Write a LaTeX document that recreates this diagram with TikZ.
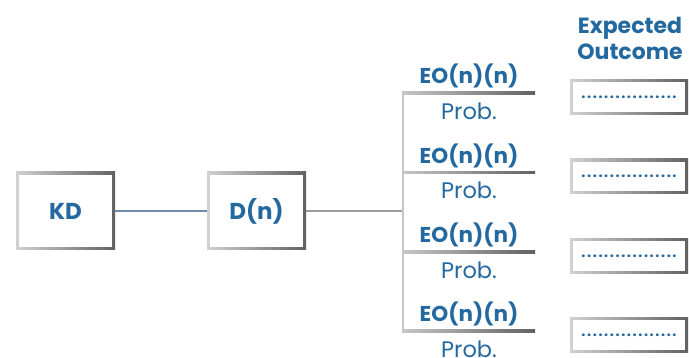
\documentclass[tikz,border=0pt]{standalone}
\usepackage{fontspec}
\setmainfont{Poppins}
\definecolor{eoblue}{RGB}{36,104,160}
\definecolor{linkblue}{RGB}{110,140,170}
\newcommand{\dotrow}{\foreach \i in {1,...,16}{.\kern1.6pt}.}
\begin{document}
\begin{tikzpicture}[x=1pt,y=-1pt,
  framebox/.style={left color=black!18, right color=black!62,
    inner sep=0pt, text=eoblue,
    path picture={\fill[white]
      ([xshift=2.6pt,yshift=2.6pt]path picture bounding box.south west) rectangle
      ([xshift=-2.6pt,yshift=-2.6pt]path picture bounding box.north east);}},
  bigbox/.style={framebox, minimum width=99pt, minimum height=78pt,
    font=\bfseries\fontsize{23}{25}\selectfont},
  outbox/.style={framebox, minimum width=118pt, minimum height=35pt,
    font=\bfseries\fontsize{14.5}{16}\selectfont},
  eolabel/.style={text=eoblue, font=\bfseries\fontsize{21.5}{24}\selectfont, inner sep=0pt},
  problabel/.style={text=eoblue, font=\fontsize{22.5}{24}\selectfont, inner sep=0pt},
  head/.style={text=eoblue, font=\bfseries\fontsize{22}{26}\selectfont, align=center, inner sep=0pt}]
\useasboundingbox (0,0) rectangle (689,358);

% decision boxes
\node[bigbox] (kd) at (65.5,211) {KD};
\node[bigbox] (dn) at (256.5,211) {D(n)};
\draw[linkblue, line width=2pt] (kd) -- (dn);

% trunk of the event fan
\coordinate (trunk) at (403,211);
\coordinate (ttop) at (403,93);
\coordinate (tbot) at (403,331);
\draw[black!38, line width=2pt] (dn) -- (trunk);
\draw[black!22, line width=2.4pt] (ttop) -- (tbot);

% column header
\node[head] (hdr) at (630,38) {Expected\\Outcome};

% branches: label, probability and outcome box
\foreach \y [count=\k] in {93,172.5,252,331} {
  \coordinate (bl\k) at (402,\y);
  \coordinate (br\k) at (535,\y);
  \shade[left color=black!22, right color=black!62]
    ([yshift=1.2pt]bl\k) rectangle ([yshift=-1.2pt]br\k);
  \node[eolabel] (eo\k) at (469,\y-17) {EO(n)(n)};
  \node[problabel] (pr\k) at (469,\y+18) {Prob.};
  \node[outbox] (out\k) at (629,\y+4) {\dotrow};
}
\end{tikzpicture}
\end{document}
